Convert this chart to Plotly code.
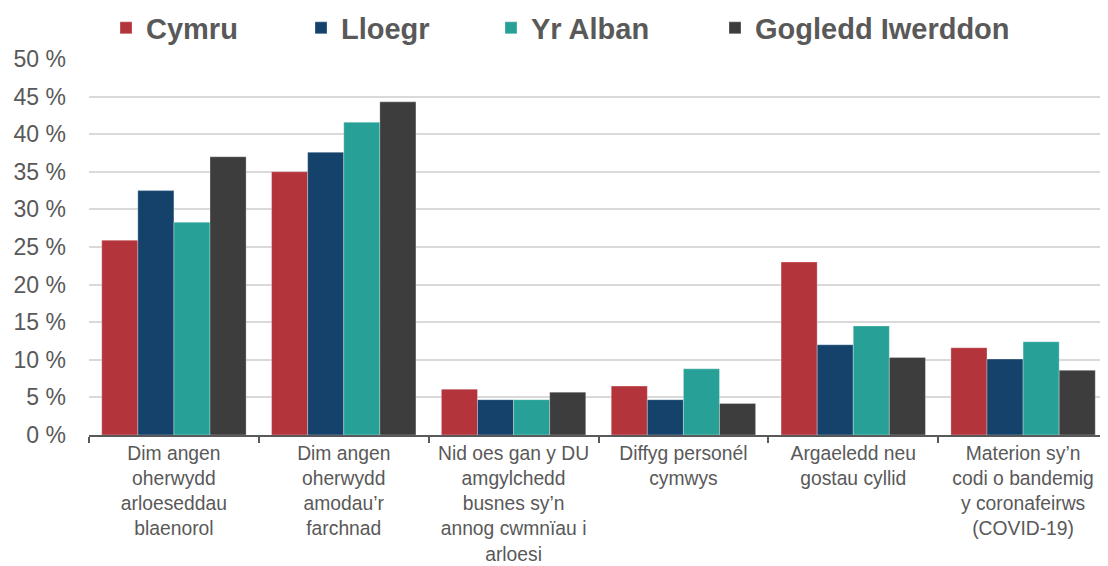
import plotly.graph_objects as go

categories = [
    "Dim angen<br>oherwydd<br>arloeseddau<br>blaenorol",
    "Dim angen<br>oherwydd<br>amodau’r<br>farchnad",
    "Nid oes gan y DU<br>amgylchedd<br>busnes sy’n<br>annog cwmnïau i<br>arloesi",
    "Diffyg personél<br>cymwys",
    "Argaeledd neu<br>gostau cyllid",
    "Materion sy’n<br>codi o bandemig<br>y coronafeirws<br>(COVID-19)",
]
cymru = [25.9, 35.0, 6.1, 6.5, 23.0, 11.6]
lloegr = [32.5, 37.6, 4.7, 4.7, 12.0, 10.1]
yr_alban = [28.3, 41.6, 4.7, 8.8, 14.5, 12.4]
gogledd = [37.0, 44.3, 5.7, 4.2, 10.3, 8.6]

series = [
    ("Cymru", cymru, "#B3343B"),
    ("Lloegr", lloegr, "#14426B"),
    ("Yr Alban", yr_alban, "#27A197"),
    ("Gogledd Iwerddon", gogledd, "#3D3D3D"),
]
legend_text_x = [138, 333, 523, 747]  # px where each legend label starts

# page body adds an 8px margin, so the figure is drawn 8px smaller
W, H = 1100, 558
font_family = "Liberation Sans, Arial, sans-serif"

fig = go.Figure()
legend_layout = {}
for i, (name, vals, col) in enumerate(series):
    lname = "legend" if i == 0 else f"legend{i + 1}"
    fig.add_trace(go.Bar(
        x=categories, y=vals, name=name, legend=lname,
        marker=dict(color=col, line=dict(color="rgba(255,255,255,0.6)", width=0.5)),
    ))
    legend_layout[lname] = dict(
        xref="container", yref="container",
        x=(legend_text_x[i] - 40) / W, y=1 - 20 / H,
        xanchor="left", yanchor="middle",
        font=dict(size=29, color="#595959", family=font_family, weight="bold"),
        bgcolor="rgba(0,0,0,0)", borderwidth=0,
    )

fig.update_layout(
    width=W, height=H,
    barmode="group", bargap=0.15, bargroupgap=0,
    plot_bgcolor="white", paper_bgcolor="white",
    margin=dict(l=81, r=0, t=51, b=131, autoexpand=False),
    font=dict(family=font_family, color="#595959", size=20),
    showlegend=True,
    **legend_layout,
)
fig.update_yaxes(
    range=[0, 50], dtick=5, ticksuffix=" %",
    showgrid=True, gridcolor="#D9D9D9", gridwidth=2,
    zeroline=False, showline=False,
    tickfont=dict(size=23, color="#595959"),
    ticks="", ticklabelstandoff=22,
)
fig.update_xaxes(
    showline=True, linecolor="#595959", linewidth=2,
    ticks="outside", tickson="boundaries", ticklen=6, tickwidth=2, tickcolor="#595959",
    tickfont=dict(size=19.3, color="#595959"),
    tickangle=0,
)
fig.write_html("out.html")
